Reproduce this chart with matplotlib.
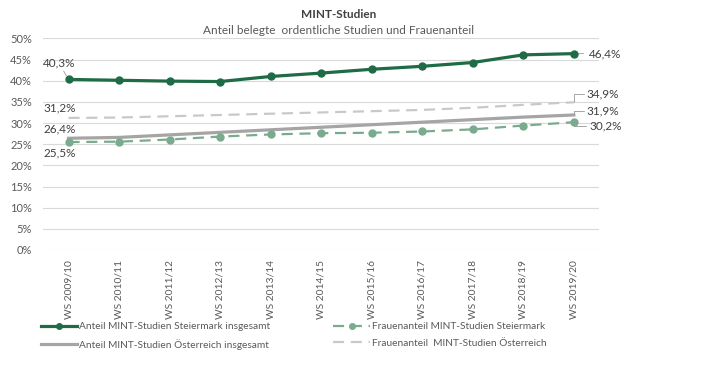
import matplotlib
matplotlib.use("Agg")
import matplotlib.pyplot as plt
from matplotlib.ticker import FuncFormatter

plt.rcParams["font.family"] = ["Lato", "DejaVu Sans"]

# --- data -------------------------------------------------------------------
semesters = ["WS 2009/10", "WS 2010/11", "WS 2011/12", "WS 2012/13", "WS 2013/14",
             "WS 2014/15", "WS 2015/16", "WS 2016/17", "WS 2017/18", "WS 2018/19",
             "WS 2019/20"]
steiermark_total = [40.3, 40.1, 39.9, 39.8, 41.0, 41.8, 42.7, 43.4, 44.3, 46.1, 46.4]
oesterreich_total = [26.4, 26.6, 27.2, 27.8, 28.4, 29.0, 29.6, 30.2, 30.8, 31.4, 31.9]
frauen_steiermark = [25.5, 25.6, 26.1, 26.8, 27.3, 27.6, 27.7, 28.0, 28.5, 29.4, 30.2]
frauen_oesterreich = [31.2, 31.3, 31.6, 31.9, 32.2, 32.5, 32.8, 33.1, 33.6, 34.3, 34.9]

DARK_GREEN = "#1F6B46"
LIGHT_GREEN = "#7AAB8E"
GREY = "#A5A5A5"
LIGHT_GREY = "#C9C9C9"
TEXT = "#595959"
LABEL = "#404040"

fig = plt.figure(figsize=(7.09, 3.69), dpi=100)
ax = fig.add_axes([0.061, 0.3225, 0.784, 0.5735])

x = list(range(len(semesters)))

l1, = ax.plot(x, steiermark_total, color=DARK_GREEN, lw=2.3, marker="o", ms=5,
              label="Anteil MINT-Studien Steiermark insgesamt", zorder=5)
l2, = ax.plot(x, oesterreich_total, color=GREY, lw=2.3,
              label="Anteil MINT-Studien Österreich insgesamt", zorder=3)
l3, = ax.plot(x, frauen_steiermark, color=LIGHT_GREEN, lw=1.6, ls=(0, (5, 3)),
              marker="o", ms=5, label="Frauenanteil MINT-Studien Steiermark", zorder=4)
l4, = ax.plot(x, frauen_oesterreich, color=LIGHT_GREY, lw=1.6, ls=(0, (5, 3)),
              label="Frauenanteil  MINT-Studien Österreich", zorder=2)

# --- axes formatting --------------------------------------------------------
ax.set_xlim(-0.5, len(semesters) - 0.5)
ax.set_ylim(0, 50)
ax.set_yticks(range(0, 51, 5))
ax.yaxis.set_major_formatter(FuncFormatter(lambda v, _: f"{int(v)}%"))
ax.set_xticks(x)
ax.set_xticklabels(semesters, rotation=90)
ax.tick_params(length=0, labelsize=8, colors=TEXT)
ax.tick_params(axis="x", labelsize=7.4, pad=7)
ax.tick_params(axis="y", pad=8)
ax.grid(axis="y", color="#D9D9D9", lw=0.8)
ax.set_axisbelow(True)
for s in ax.spines.values():
    s.set_visible(False)

# --- data labels ------------------------------------------------------------
def fmt(v):
    return f"{v:.1f}".replace(".", ",") + "%"

lead = dict(arrowstyle="-", color="#A6A6A6", lw=0.7, shrinkA=0, shrinkB=3)
ax.annotate(fmt(steiermark_total[0]), (0, steiermark_total[0]), xytext=(-7, 8),
            textcoords="offset points", fontsize=8.5, color=LABEL, ha="center",
            va="bottom", arrowprops=lead)
ax.annotate(fmt(frauen_oesterreich[0]), (0, frauen_oesterreich[0]), xytext=(-6, 3),
            textcoords="offset points", fontsize=8.5, color=LABEL, ha="center", va="bottom")
ax.annotate(fmt(oesterreich_total[0]), (0, oesterreich_total[0]), xytext=(-6, 3),
            textcoords="offset points", fontsize=8.5, color=LABEL, ha="center", va="bottom")
ax.annotate(fmt(frauen_steiermark[0]), (0, frauen_steiermark[0]), xytext=(-6, -4),
            textcoords="offset points", fontsize=8.5, color=LABEL, ha="center", va="top")

last = len(semesters) - 1
ax.annotate(fmt(steiermark_total[-1]), (last, steiermark_total[-1]), xytext=(11, 0),
            textcoords="offset points", fontsize=8.5, color=LABEL, ha="left",
            va="center", arrowprops=dict(lead, shrinkB=0, shrinkA=2))
elbow = dict(arrowstyle="-", color="#A6A6A6", lw=0.7, shrinkA=0, shrinkB=0,
             connectionstyle="angle,angleA=0,angleB=90,rad=0")
ax.annotate(fmt(frauen_oesterreich[-1]), (last, frauen_oesterreich[-1]), xytext=(9, 6),
            textcoords="offset points", fontsize=8.5, color=LABEL, ha="left",
            va="center", arrowprops=elbow)
ax.annotate(fmt(oesterreich_total[-1]), (last, oesterreich_total[-1]), xytext=(9, 3),
            textcoords="offset points", fontsize=8.5, color=LABEL, ha="left",
            va="center", arrowprops=elbow)
ax.annotate(fmt(frauen_steiermark[-1]), (last, frauen_steiermark[-1]), xytext=(11, -3),
            textcoords="offset points", fontsize=8.5, color=LABEL, ha="left",
            va="center", arrowprops=elbow)

# --- titles -----------------------------------------------------------------
fig.text(0.477, 0.962, "MINT-Studien", ha="center", va="center", fontsize=8.5,
         fontweight="bold", color=LABEL)
fig.text(0.477, 0.918, "Anteil belegte  ordentliche Studien und Frauenanteil",
         ha="center", va="center", fontsize=8.5, color=TEXT)

# --- legend -----------------------------------------------------------------
leg = fig.legend(handles=[l1, l2, l3, l4], ncol=2, loc="upper left",
                 bbox_to_anchor=(0.052, 0.138), frameon=False, fontsize=7.3,
                 handlelength=3.6, handletextpad=0.2, columnspacing=6.2,
                 labelspacing=0.75, borderaxespad=0, markerscale=0.8)
for t in leg.get_texts():
    t.set_color(TEXT)

fig.savefig("out.png", dpi=100)
